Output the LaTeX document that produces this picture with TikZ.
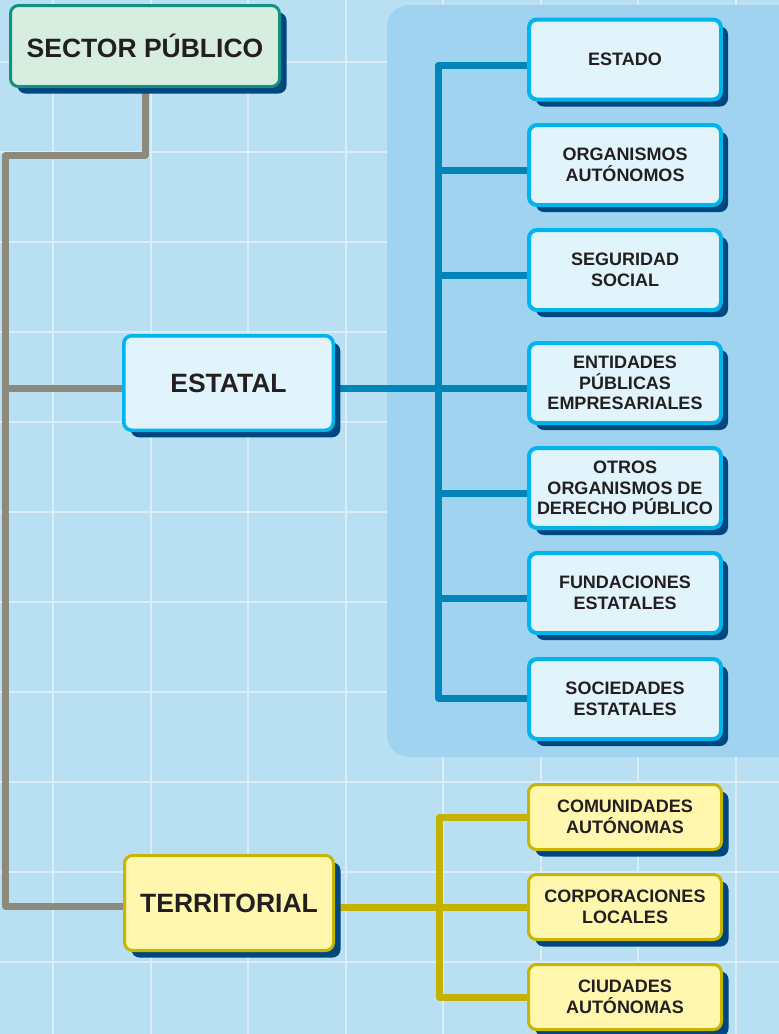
\documentclass[tikz,border=0pt]{standalone}
\usepackage{fontspec}
\setmainfont{Liberation Sans}
\usetikzlibrary{shadows}
\definecolor{bgblue}{HTML}{B9DFF3}
\definecolor{gridc}{HTML}{D8EFFA}
\definecolor{panel}{HTML}{A0D3F0}
\definecolor{shad}{HTML}{00467F}
\definecolor{greenfill}{HTML}{D6EDDF}
\definecolor{greenbd}{HTML}{139180}
\definecolor{cyanfill}{HTML}{E1F4FB}
\definecolor{cyanbd}{HTML}{00B5EC}
\definecolor{yfill}{HTML}{FFF7AE}
\definecolor{ybd}{HTML}{C8B500}
\definecolor{grayl}{HTML}{8C8A7C}
\definecolor{bluel}{HTML}{0085BB}
\definecolor{yell}{HTML}{C4B200}
\definecolor{txt}{HTML}{231F20}
\pgfdeclarelayer{back}
\pgfdeclarelayer{mid}
\pgfsetlayers{back,mid,main}
\begin{document}
\begin{tikzpicture}[x=1pt,y=-1pt,
  box/.style={rounded corners=8pt, text=txt, align=center, inner sep=0pt,
    drop shadow={shadow xshift=7pt, shadow yshift=-7pt, fill=shad, opacity=1}},
  bigtxt/.style={font=\fontsize{26.5}{31}\selectfont\bfseries},
  smalltxt/.style={font=\fontsize{18}{20.5}\selectfont\bfseries},
  greenbox/.style={box, bigtxt, fill=greenfill, draw=greenbd, line width=3pt, minimum width=269pt, minimum height=81pt},
  mainbox/.style={box, bigtxt, fill=cyanfill, draw=cyanbd, line width=3.5pt, minimum width=209.5pt, minimum height=94.5pt},
  mainybox/.style={box, bigtxt, fill=yfill, draw=ybd, line width=3pt, minimum width=209pt, minimum height=95pt},
  subbox/.style={box, smalltxt, fill=cyanfill, draw=cyanbd, line width=4pt, minimum width=192pt, minimum height=80pt},
  subybox/.style={box, smalltxt, fill=yfill, draw=ybd, line width=3pt, minimum width=193pt, minimum height=65pt},
  gl/.style={draw=grayl, line width=7pt, line join=round},
  bl/.style={draw=bluel, line width=7pt, line join=round},
  yl/.style={draw=yell, line width=7pt, line join=round},
  gridline/.style={draw=gridc, line width=2pt}
]
\useasboundingbox (0,0) rectangle (779,1034);
\begin{pgfonlayer}{back}
  \fill[bgblue] (0,0) rectangle (779,1034);
  \foreach \k in {0,...,7} {\draw[gridline] (53+97.5*\k,0) -- (53+97.5*\k,1034);}
  \foreach \k in {0,...,10} {\draw[gridline] (0,62+90*\k) -- (779,62+90*\k);}
  \fill[panel, rounded corners=22pt] (387,5) rectangle (800,757);
\end{pgfonlayer}

% nodes
\node[greenbox] (sector) at (145,46) {SECTOR PÚBLICO};
\node[mainbox] (estatal) at (228.5,383) {ESTATAL};
\node[mainybox] (territorial) at (229,903) {TERRITORIAL};

\node[subbox] (estado) at (625,59.5) {ESTADO};
\node[subbox] (organismos) at (625,165) {ORGANISMOS\\AUTÓNOMOS};
\node[subbox] (seguridad) at (625,270) {SEGURIDAD\\SOCIAL};
\node[subbox] (entidades) at (625,383) {ENTIDADES\\PÚBLICAS\\EMPRESARIALES};
\node[subbox] (otros) at (625,488) {OTROS\\ORGANISMOS DE\\DERECHO PÚBLICO};
\node[subbox] (fundaciones) at (625,593) {FUNDACIONES\\ESTATALES};
\node[subbox] (sociedades) at (625,699) {SOCIEDADES\\ESTATALES};

\node[subybox] (comunidades) at (625,817) {COMUNIDADES\\AUTÓNOMAS};
\node[subybox] (corporaciones) at (625,907) {CORPORACIONES\\LOCALES};
\node[subybox] (ciudades) at (625,997) {CIUDADES\\AUTÓNOMAS};

\coordinate (g1) at (5.5,155);
\coordinate (bt) at (438.5,65);
\coordinate (bb) at (438.5,698);
\coordinate (yt) at (439.5,817);
\coordinate (yb) at (439.5,997);

\begin{pgfonlayer}{mid}
  % gray tree
  \draw[gl] (sector.south) |- (g1) |- ([yshift=-3.5pt]territorial.west);
  \draw[gl] ([yshift=-5pt]estatal.west) -- ([yshift=-5pt]estatal.west -| g1);
  % blue tree
  \draw[bl] (estado.west |- bt) -- (bt) -- (bb) -- (sociedades.west |- bb);
  \draw[bl] ([yshift=-5pt]organismos.west) -- ([yshift=-5pt]organismos.west -| bt);
  \draw[bl] ([yshift=-5pt]seguridad.west) -- ([yshift=-5pt]seguridad.west -| bt);
  \draw[bl] ([yshift=-5pt]estatal.east) -- ([yshift=-5pt]entidades.west);
  \draw[bl] ([yshift=-5pt]otros.west) -- ([yshift=-5pt]otros.west -| bt);
  \draw[bl] ([yshift=-5pt]fundaciones.west) -- ([yshift=-5pt]fundaciones.west -| bt);
  % yellow tree
  \draw[yl] (comunidades.west) -- (yt) -- (yb) -- (ciudades.west);
  \draw[yl] ([yshift=-4.5pt]territorial.east) -- (corporaciones.west |- 0,907.5);
\end{pgfonlayer}
\end{tikzpicture}
\end{document}
